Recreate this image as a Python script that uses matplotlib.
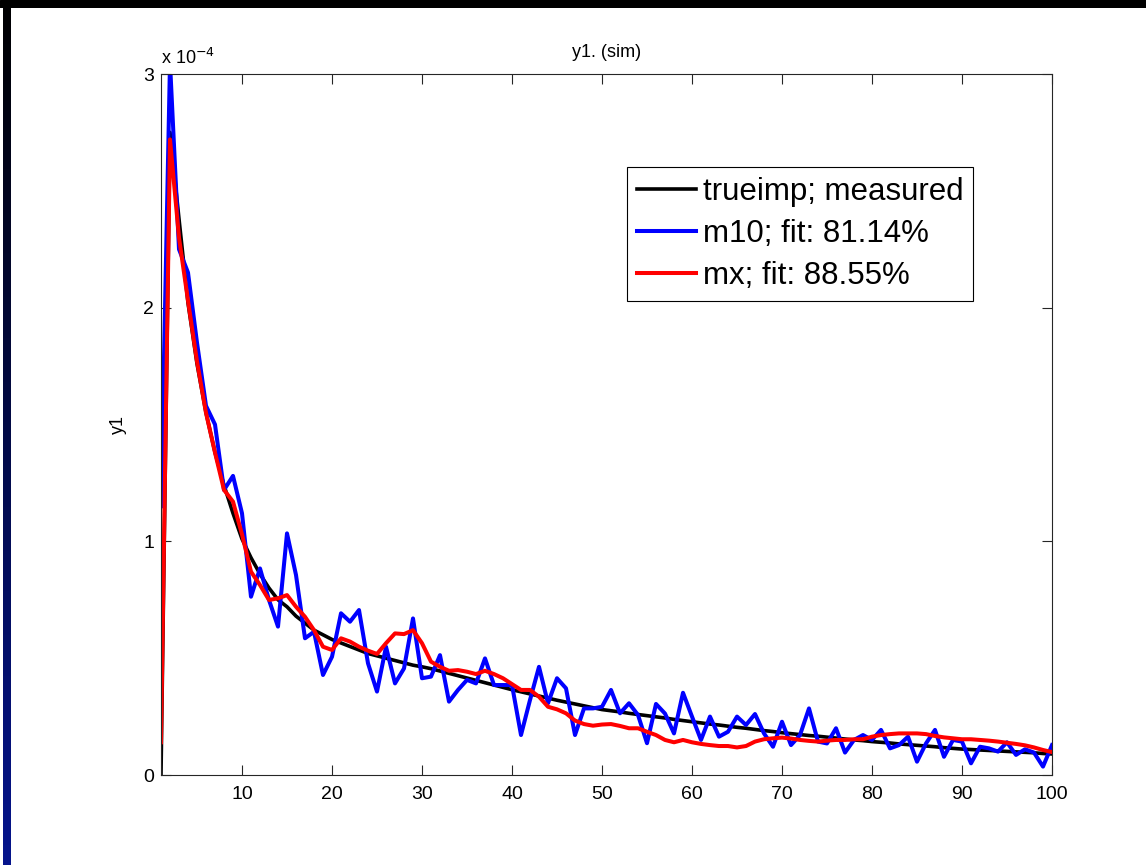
import numpy as np
import matplotlib.pyplot as plt
from matplotlib.ticker import FuncFormatter

plt.rcParams['font.family'] = ['Liberation Sans', 'DejaVu Sans']

## impulse response samples (units of 1e-4) ##
k = np.arange(1, 101)

y_true = [0.0, 2.75, 2.38, 2.02, 1.76, 1.55, 1.38, 1.24, 1.12, 1.01,
          0.93, 0.86, 0.80, 0.75, 0.72, 0.68, 0.65, 0.62, 0.60, 0.58,
          0.565, 0.55, 0.535, 0.52, 0.51, 0.50, 0.49, 0.48, 0.47, 0.463,
          0.455, 0.445, 0.435, 0.425, 0.415, 0.405, 0.395, 0.385, 0.375, 0.365,
          0.356, 0.347, 0.338, 0.329, 0.32, 0.312, 0.304, 0.296, 0.288, 0.28,
          0.275, 0.27, 0.264, 0.259, 0.254, 0.249, 0.244, 0.238, 0.233, 0.228,
          0.223, 0.218, 0.214, 0.209, 0.204, 0.2, 0.195, 0.19, 0.186, 0.181,
          0.177, 0.173, 0.169, 0.166, 0.162, 0.158, 0.154, 0.15, 0.147, 0.143,
          0.14, 0.137, 0.133, 0.13, 0.127, 0.124, 0.121, 0.117, 0.114, 0.111,
          0.109, 0.107, 0.105, 0.103, 0.101, 0.099, 0.097, 0.095, 0.092, 0.09]

y_m10 = [1.15, 3.05, 2.25, 2.15, 1.85, 1.58, 1.50, 1.22, 1.28, 1.12,
         0.763, 0.884, 0.749, 0.635, 1.034, 0.856, 0.585, 0.613, 0.428, 0.506,
         0.692, 0.656, 0.706, 0.478, 0.357, 0.549, 0.392, 0.456, 0.670, 0.414,
         0.421, 0.513, 0.314, 0.364, 0.407, 0.392, 0.499, 0.385, 0.385, 0.385,
         0.171, 0.321, 0.463, 0.307, 0.414, 0.371, 0.171, 0.285, 0.285, 0.292,
         0.364, 0.264, 0.307, 0.257, 0.136, 0.304, 0.263, 0.178, 0.352, 0.25,
         0.15, 0.25, 0.164, 0.185, 0.25, 0.214, 0.261, 0.178, 0.121, 0.228,
         0.128, 0.171, 0.285, 0.143, 0.135, 0.2, 0.096, 0.15, 0.171, 0.15,
         0.193, 0.114, 0.128, 0.164, 0.057, 0.135, 0.193, 0.078, 0.15, 0.143,
         0.05, 0.121, 0.114, 0.1, 0.14, 0.086, 0.11, 0.096, 0.036, 0.128]

y_mx = [0.14, 2.72, 2.30, 2.03, 1.77, 1.55, 1.38, 1.22, 1.17, 1.03,
        0.87, 0.813, 0.749, 0.756, 0.77, 0.72, 0.677, 0.62, 0.549, 0.535,
        0.585, 0.571, 0.549, 0.532, 0.518, 0.564, 0.606, 0.603, 0.62, 0.564,
        0.485, 0.463, 0.446, 0.449, 0.442, 0.432, 0.446, 0.432, 0.414, 0.389,
        0.364, 0.364, 0.335, 0.292, 0.281, 0.264, 0.233, 0.218, 0.211, 0.216,
        0.218, 0.21, 0.2, 0.2, 0.185, 0.171, 0.15, 0.14, 0.15, 0.14,
        0.133, 0.128, 0.124, 0.124, 0.118, 0.124, 0.143, 0.153, 0.157, 0.16,
        0.156, 0.15, 0.146, 0.143, 0.147, 0.15, 0.15, 0.153, 0.153, 0.164,
        0.171, 0.175, 0.178, 0.178, 0.178, 0.175, 0.167, 0.161, 0.157, 0.153,
        0.153, 0.15, 0.147, 0.143, 0.138, 0.133, 0.127, 0.118, 0.107, 0.098]

labels = ['trueimp; measured', 'm10; fit: 81.14%', 'mx; fit: 88.55%']
scale = 1e-4

fig = plt.figure(figsize=(11.46, 8.65), dpi=100)

# window frame bits (top bar, left gradient strip)
top = fig.add_axes([0, 1 - 7.5 / 865, 1, 7.5 / 865])
top.set_axis_off()
top.add_patch(plt.Rectangle((0, 0), 1, 1, color='black', transform=top.transAxes))
strip = fig.add_axes([3 / 1146, 0, 8 / 1146, 1])
grad = np.linspace(0, 1, 256).reshape(-1, 1)
strip.imshow(np.dstack([grad * 0.02, grad * 0.08, grad * 0.55]), aspect='auto',
             extent=[0, 1, 0, 1], origin='upper')
strip.set_axis_off()

ax = fig.add_axes([161 / 1146, 1 - 775 / 865, 891 / 1146, 701 / 865])
ax.plot(k, np.array(y_true) * scale, color='black', lw=2.6, label=labels[0])
ax.plot(k, np.array(y_m10) * scale, color='#0000ff', lw=2.9, label=labels[1])
ax.plot(k, np.array(y_mx) * scale, color='#ff0000', lw=2.9, label=labels[2])

ax.set_xlim(1, 100)
ax.set_ylim(0, 3e-4)
ax.set_xticks(np.arange(10, 101, 10))
ax.set_yticks([0, 1e-4, 2e-4, 3e-4])
ax.yaxis.set_major_formatter(FuncFormatter(lambda v, p: '%d' % round(v / scale)))
ax.tick_params(direction='in', length=7, width=0.8, top=True, right=True,
               labelsize=14, colors='#262626', labelcolor='black')
ax.tick_params(axis='x', pad=8)
ax.tick_params(axis='y', pad=5)
for s in ax.spines.values():
    s.set_color('#262626')
    s.set_linewidth(0.8)

ax.set_title('y1. (sim)', fontsize=13, pad=12)
ax.set_ylabel('y1', fontsize=13, labelpad=12)
ax.text(0.0, 1.008, r'x 10$^{-4}$', transform=ax.transAxes, fontsize=13,
        ha='left', va='bottom')

leg = ax.legend(loc='upper left', bbox_to_anchor=(0.523, 0.867), fontsize=22.5,
                frameon=True, fancybox=False, framealpha=1, edgecolor='black',
                handlelength=1.9, handletextpad=0.2, borderpad=0.32,
                labelspacing=0.38, borderaxespad=0)
leg.get_frame().set_linewidth(0.8)

fig.savefig('out.png', dpi=100)
